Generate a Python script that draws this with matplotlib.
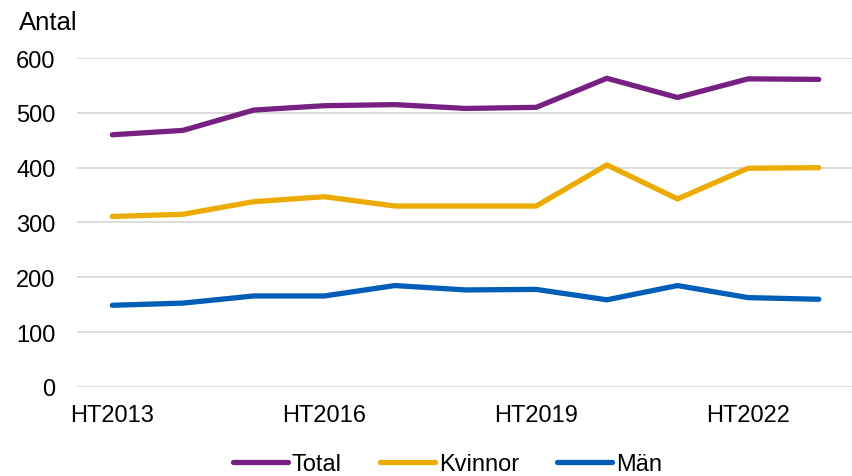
import matplotlib
matplotlib.use("Agg")
import matplotlib.pyplot as plt

# -- Data ----------------------------------------------------------------------
terms = ["HT2013", "HT2014", "HT2015", "HT2016", "HT2017", "HT2018",
         "HT2019", "HT2020", "HT2021", "HT2022", "HT2023"]
total = [460, 468, 505, 513, 515, 508, 510, 563, 528, 562, 561]
kvinnor = [311, 315, 338, 347, 330, 330, 330, 405, 343, 399, 400]
man = [149, 153, 166, 166, 185, 177, 178, 159, 185, 163, 160]

PURPLE = "#762181"
GOLD = "#EBAB00"
BLUE = "#005EB8"
GRID = "#D9D9D9"

plt.rcParams["font.family"] = ["Liberation Sans", "DejaVu Sans"]
FS = 17

fig = plt.figure(figsize=(8.52, 4.77), dpi=100)
ax = fig.add_axes([0.0904, 0.1866, 0.9096, 0.6897])

x = list(range(len(terms)))
ax.plot(x, total, color=PURPLE, lw=3.8, label="Total", solid_capstyle="round")
ax.plot(x, kvinnor, color=GOLD, lw=3.8, label="Kvinnor", solid_capstyle="round")
ax.plot(x, man, color=BLUE, lw=3.8, label="Män", solid_capstyle="round")

ax.set_xlim(-0.5, 10.47)
ax.set_ylim(0, 600)
ax.set_yticks(range(0, 601, 100))
ax.set_xticks(x[::3])
ax.set_xticklabels(terms[::3])
ax.yaxis.grid(True, color=GRID, lw=1.3)
ax.set_axisbelow(True)
for s in ax.spines.values():
    s.set_visible(False)
ax.tick_params(length=0, labelsize=FS, colors="black")
ax.tick_params(axis="y", pad=15.5)
ax.tick_params(axis="x", pad=12)

fig.text(19 / 852, 1 - 23 / 477, "Antal", fontsize=18.5, va="center", ha="left")

fig.legend(loc="center", bbox_to_anchor=(0.525, 1 - 465 / 477), ncol=3,
           frameon=False, fontsize=FS, handlelength=2.35, columnspacing=1.6,
           handletextpad=0.15, borderpad=0)

fig.savefig("out.png", dpi=100)
